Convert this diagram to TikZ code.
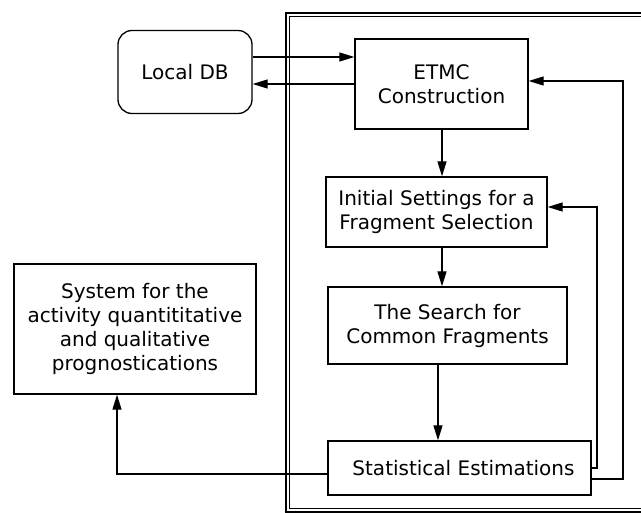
\documentclass[tikz,border=0pt]{standalone}
\usepackage{fontspec}
\setmainfont{DejaVu Sans}
\usetikzlibrary{arrows.meta}
\begin{document}
\begin{tikzpicture}[x=1pt,y=-1pt,
  box/.style={draw,line width=1.3pt,align=center,inner sep=0pt,font=\fontsize{20}{24}\selectfont},
  arr/.style={line width=1.2pt,-{Triangle[length=15pt,width=9pt]}},
  ln/.style={line width=1.2pt}]
\useasboundingbox (0,0) rectangle (641,513);
\clip (0,0) rectangle (641,513);
% double frame
\draw[ln] (660,13) -- (286,13) -- (286,512) -- (660,512);
\draw[ln] (660,16.5) -- (289.5,16.5) -- (289.5,508.5) -- (660,508.5);
% nodes
\node[box,rounded corners=14pt,minimum width=134pt,minimum height=83pt] (local) at (185,72) {Local DB};
\node[box,minimum width=173pt,minimum height=90pt] (etmc) at (441.5,84) {ETMC\\Construction};
\node[box,minimum width=221pt,minimum height=70pt] (init) at (436.5,212) {Initial Settings for a\\Fragment Selection};
\node[box,minimum width=239pt,minimum height=77pt] (search) at (447.5,325.5) {The Search for\\Common Fragments};
\node[box,minimum width=263pt,minimum height=54pt] (stat) at (459.5,468) {\hspace*{8pt}Statistical Estimations};
\node[box,minimum width=242pt,minimum height=130pt] (sys) at (135,329) {System for the\\activity quantititative\\and qualitative\\prognostications};
% coordinates for bends
\coordinate (fbA) at (597,0);
\coordinate (fbB) at (623,0);
\coordinate (sysIn) at (117,0);
\coordinate (dnX) at (442,0);
\coordinate (dnY) at (438,0);
% connectors
\draw[arr] ([yshift=15pt]local.east) -- ([yshift=15pt]local.east -| etmc.west);
\draw[arr] (etmc.west) -- (etmc.west -| local.east);
\draw[arr] (dnX |- etmc.south) -- (dnX |- init.north);
\draw[arr] (dnX |- init.south) -- (dnX |- search.north);
\draw[arr] (dnY |- search.south) -- (dnY |- stat.north);
\draw[arr] ([yshift=-6pt]stat.west) -- ([yshift=-6pt]stat.west -| sysIn) -- (sysIn |- sys.south);
\draw[arr] (stat.east) -- (stat.east -| fbA) -- ([yshift=5pt]init.east -| fbA) -- ([yshift=5pt]init.east);
\draw[arr] ([yshift=-11pt]stat.east) -- ([yshift=-11pt]stat.east -| fbB) -- ([yshift=3pt]etmc.east -| fbB) -- ([yshift=3pt]etmc.east);
\end{tikzpicture}
\end{document}
